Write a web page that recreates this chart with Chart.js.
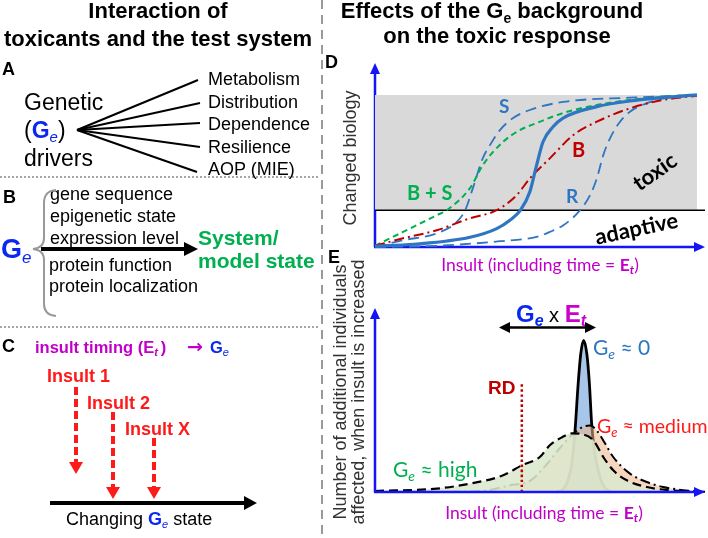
<!DOCTYPE html>
<html>
<head>
<meta charset="utf-8">
<script src="https://cdn.jsdelivr.net/npm/chart.js@4.4.1/dist/chart.umd.min.js"></script>
<style>
  html, body { margin:0; padding:0; background:#fff; }
  #wrap { position:relative; width:708px; height:538px; overflow:hidden; background:#fff; }
  canvas { position:absolute; left:0; top:0; }
  #cD { z-index:1; } #cE { z-index:1; }
  svg { position:absolute; left:0; top:0; z-index:2; }
  .ar { font-family:"Liberation Sans", Arial, sans-serif; }
  .cal { font-family:Lato, "Open Sans", sans-serif; }
</style>
</head>
<body>
<div id="wrap">
<canvas id="cD" width="708" height="538"></canvas>
<canvas id="cE" width="708" height="538"></canvas>
<svg width="708" height="538" viewBox="0 0 708 538" xmlns="http://www.w3.org/2000/svg">
  <!-- divider -->
  <line x1="322" y1="0" x2="322" y2="538" stroke="#9a9a9a" stroke-width="2" stroke-dasharray="9 6"/>
  <line x1="0" y1="177" x2="318" y2="177" stroke="#8a8a8a" stroke-width="1.5" stroke-dasharray="2 2"/>
  <line x1="0" y1="327" x2="318" y2="327" stroke="#8a8a8a" stroke-width="1.5" stroke-dasharray="2 2"/>

  <!-- titles -->
  <g class="ar" font-weight="bold" font-size="22" text-anchor="middle" fill="#000">
    <text x="158" y="18">Interaction of</text>
    <text x="158" y="46">toxicants and the test system</text>
    <text x="492" y="18">Effects of the G<tspan font-size="14" dy="5">e</tspan><tspan dy="-5"> background</tspan></text>
    <text x="497" y="43">on the toxic response</text>
  </g>

  <!-- panel A -->
  <g class="ar" fill="#000">
    <text x="2" y="75" font-size="18" font-weight="bold">A</text>
    <text x="24" y="110" font-size="23">Genetic</text>
    <text x="24" y="138" font-size="23">(<tspan fill="#0a28f0" font-weight="bold">G</tspan><tspan fill="#0a28f0" font-style="italic" font-size="15" dy="4">e</tspan><tspan dy="-4">)</tspan></text>
    <text x="24" y="166" font-size="23">drivers</text>
    <g font-size="18">
      <text x="208" y="85">Metabolism</text>
      <text x="208" y="108">Distribution</text>
      <text x="208" y="130">Dependence</text>
      <text x="208" y="153">Resilience</text>
      <text x="208" y="175">AOP (MIE)</text>
    </g>
  </g>
  <g stroke="#000" stroke-width="2">
    <line x1="77" y1="130" x2="198" y2="80"/>
    <line x1="77" y1="130" x2="200" y2="103"/>
    <line x1="77" y1="130" x2="200" y2="123"/>
    <line x1="77" y1="130" x2="200" y2="147"/>
    <line x1="77" y1="130" x2="197" y2="172"/>
  </g>

  <!-- panel B -->
  <g class="ar">
    <text x="3" y="203" font-size="18" font-weight="bold">B</text>
    <text x="1" y="258" font-size="27" font-weight="bold" fill="#0a28f0">G<tspan font-style="italic" font-weight="normal" font-size="17" dy="5">e</tspan></text>
    <g font-size="18" fill="#000">
      <text x="50" y="200">gene sequence</text>
      <text x="50" y="222">epigenetic state</text>
      <text x="50" y="244">expression level</text>
      <text x="49" y="271">protein function</text>
      <text x="49" y="292">protein localization</text>
    </g>
    <g font-size="21" font-weight="bold" fill="#00b050">
      <text x="198" y="245">System/</text>
      <text x="198" y="268">model state</text>
    </g>
  </g>
  <path d="M56 190 Q44 191 44 203 L44 238 Q44 248 33 249 Q44 250 44 260 L44 304 Q44 315 56 316" fill="none" stroke="#999" stroke-width="2"/>
  <line x1="41" y1="249" x2="186" y2="249" stroke="#000" stroke-width="4"/>
  <polygon points="184,242 198,249 184,256" fill="#000"/>

  <!-- panel C -->
  <g class="ar" font-weight="bold">
    <text x="2" y="352" font-size="18">C</text>
    <text x="35" y="353" font-size="16.5" fill="#c000c8">insult timing (E<tspan font-style="italic" font-size="11" dy="3">t</tspan><tspan dy="-3" dx="3">)</tspan></text>
    <text x="187" y="353" font-size="19" fill="#c000c8" font-family="DejaVu Sans">→</text>
    <text x="210" y="353" font-size="16.5" fill="#0a28f0">G<tspan font-style="italic" font-weight="normal" font-size="11" dy="3">e</tspan></text>
    <g font-size="18" fill="#ff1a1a">
      <text x="47" y="382">Insult 1</text>
      <text x="87" y="409">Insult 2</text>
      <text x="125" y="435">Insult X</text>
    </g>
  </g>
  <g stroke="#ff1a1a" stroke-width="4" stroke-dasharray="8 4">
    <line x1="76" y1="387" x2="76" y2="463"/>
    <line x1="113" y1="412" x2="113" y2="488"/>
    <line x1="154" y1="438" x2="154" y2="488"/>
  </g>
  <g fill="#ff1a1a">
    <polygon points="69,462 83,462 76,474"/>
    <polygon points="106,487 120,487 113,499"/>
    <polygon points="147,487 161,487 154,499"/>
  </g>
  <line x1="50" y1="503" x2="246" y2="503" stroke="#000" stroke-width="4"/>
  <polygon points="244,496 257,503 244,510" fill="#000"/>
  <text class="ar" x="66" y="525" font-size="18" fill="#000">Changing <tspan fill="#0a28f0" font-weight="bold">G</tspan><tspan fill="#0a28f0" font-style="italic" font-size="11" dy="3">e</tspan><tspan dy="-3">  state</tspan></text>

  <!-- panel letters D / E -->
  <g class="ar" font-size="18" font-weight="bold">
    <text x="325" y="68">D</text>
    <text x="328" y="263">E</text>
  </g>

  <!-- axis titles -->
  <g class="ar" font-size="18" fill="#333" text-anchor="middle">
    <text transform="translate(356,158) rotate(-90)">Changed biology</text>
    <text transform="translate(346,392) rotate(-90)">Number of additional individuals</text>
    <text transform="translate(364,392) rotate(-90)">affected, when insult is increased</text>
  </g>
  <g class="cal" font-size="17.5" fill="#c000c8" text-anchor="middle">
    <text x="540" y="271">Insult (including time = <tspan font-weight="bold">E</tspan><tspan font-weight="bold" font-style="italic" font-size="12" dy="3">t</tspan><tspan dy="-3">)</tspan></text>
    <text x="544" y="519">Insult (including time = <tspan font-weight="bold">E</tspan><tspan font-weight="bold" font-style="italic" font-size="12" dy="3">t</tspan><tspan dy="-3">)</tspan></text>
  </g>

  <!-- D labels -->
  <g class="cal" font-weight="bold">
    <text x="499" y="113" font-size="19" fill="#2e75c2">S</text>
    <text x="572" y="157" font-size="20" fill="#c00000">B</text>
    <text x="407" y="200" font-size="20" fill="#00b050">B + S</text>
    <text x="566" y="203" font-size="19" fill="#2e75c2">R</text>
    <text transform="translate(659,178) rotate(-35)" text-anchor="middle" font-size="22" fill="#000">toxic</text>
    <text transform="translate(638,236) rotate(-12)" text-anchor="middle" font-size="22" fill="#000">adaptive</text>
  </g>

  <!-- E labels -->
  <g class="ar" font-weight="bold">
    <text x="551" y="322" text-anchor="middle" font-size="24"><tspan fill="#0a28f0">G</tspan><tspan fill="#0a28f0" font-style="italic" font-size="16" dy="4">e</tspan><tspan dy="-4" font-weight="normal" font-size="20" fill="#000"> x </tspan><tspan fill="#cc00cc">E</tspan><tspan fill="#cc00cc" font-style="italic" font-size="16" dy="4">t</tspan></text>
    <text x="488" y="394" font-size="19" fill="#c00000">RD</text>
  </g>
  <line x1="508" y1="327.5" x2="587" y2="327.5" stroke="#000" stroke-width="2.5"/>
  <polygon points="499,327.5 510,322 510,333" fill="#000"/>
  <polygon points="596,327.5 585,322 585,333" fill="#000"/>
  <g class="cal">
    <text x="593" y="355" font-size="21" fill="#2e75c2">G<tspan font-style="italic" font-size="14" dy="4">e</tspan><tspan dy="-4"> ≈ 0</tspan></text>
    <text x="597" y="433" font-size="19.5" fill="#ff1a1a">G<tspan font-style="italic" font-size="13" dy="4">e</tspan><tspan dy="-4"> ≈ medium</tspan></text>
    <text x="393" y="477" font-size="21" fill="#00b050">G<tspan font-style="italic" font-size="14" dy="4">e</tspan><tspan dy="-4"> ≈ high</tspan></text>
  </g>
</svg>
</div>
<script>
// ---------- Panel D data (x = insult, y = changed biology, 0..100) ----------
const dGrayTop = 100;
const dThreshold = 24.2;
const dS_x  = [0, 8.7, 19.2, 25.4, 28, 30.4, 33.5, 35.7, 38.8, 42.9, 48.1, 58.4, 79.2, 100];
const dS_y  = [0.1, 4.4, 9, 16.5, 24.2, 38.7, 58.5, 67, 76.9, 84.8, 90.1, 95.4, 98.2, 100];
const dBS_x = [0, 8.7, 19.2, 22.3, 29.5, 33.5, 39.8, 45, 50.2, 58.4, 68.9, 79.2, 89.4, 100];
const dBS_y = [0.8, 9.9, 20.9, 24.2, 38.7, 53.9, 69.2, 76.9, 81.5, 88.1, 93.4, 96.7, 98.7, 100];
const dB_x  = [0, 8.7, 19.2, 29.5, 37.8, 44, 48.1, 54.3, 61.6, 68.9, 79.2, 89.5, 100];
const dB_y  = [0.8, 5.7, 11, 18.9, 24.2, 34.1, 45.1, 58.3, 73.6, 82.4, 91.2, 96.7, 99.5];
const dR_x  = [0, 19.3, 38.8, 50.2, 54.3, 58.5, 63.7, 66.8, 68.9, 70.9, 73, 76.1, 79.2, 84.4, 89.5, 97.8, 100];
const dR_y  = [0, 0.8, 3.8, 6.6, 9.9, 14.3, 24.2, 34.1, 45.1, 60.4, 71.5, 82.4, 89, 94.5, 97.8, 99.5, 100];
const dN_x  = [0, 12, 29.5, 37.8, 41.9, 45.2, 48.1, 50.2, 52.2, 55.3, 58.4, 68.9, 79.2, 89.4, 100];
const dN_y  = [0.5, 1.8, 6.4, 12.1, 17.6, 24.2, 36.3, 53.9, 69.2, 79.1, 84.8, 92.3, 96, 98.2, 100];

// ---------- Panel E data (x = insult, y = additional individuals affected) ----------
const eZero_x = [56.5, 58.5, 60, 61.2, 62.1, 63.1, 63.9, 64.8, 65.8, 66.6, 67.3, 68.2, 69.6, 71.2, 73.3];
const eZero_y = [0, 3, 12, 30, 60, 108, 138, 151.7, 138, 108, 68, 40, 18, 5, 0];
const eMed_x  = [23.3, 34.8, 41.9, 48.4, 53.5, 57.7, 61.5, 64.5, 66.8, 69, 71.2, 74, 79.2, 84.4, 89.5, 97.8, 102.5];
const eMed_y  = [0.2, 1.7, 6.7, 11.7, 28.4, 45, 58, 65, 66.5, 61, 50, 35, 18.4, 10, 5, 1.2, 0.2];
const eHigh_x = [0, 19.2, 29.5, 39.8, 45.6, 51.2, 54.3, 58.1, 61.2, 63.7, 67.8, 70.9, 74, 78.2, 84.4, 91.6, 97.8];
const eHigh_y = [1, 3.4, 8.4, 16.7, 26.7, 35, 46.7, 54.7, 58.7, 58.2, 51.7, 35, 21.7, 11.7, 5, 1.7, 0.4];
const eRD_x = [45.6, 45.6];
const eRD_y = [0, 108.4];

const pts = (xs, ys) => xs.map((x, i) => ({x, y: ys[i]}));
const AXIS_BLUE = '#1414f5';

function axesPlugin(id, when) {
  const draw = (chart) => {
    const {ctx, chartArea: a, scales: {x, y}} = chart;
    const x0 = x.getPixelForValue(0), y0 = y.getPixelForValue(0);
    ctx.save();
    ctx.strokeStyle = AXIS_BLUE; ctx.fillStyle = AXIS_BLUE; ctx.lineWidth = 2.5;
    ctx.beginPath();
    ctx.moveTo(x0, y0); ctx.lineTo(x0, a.top + 8);
    ctx.moveTo(x0 - 1, y0); ctx.lineTo(a.right - 8, y0);
    ctx.stroke();
    ctx.beginPath(); ctx.moveTo(x0, a.top); ctx.lineTo(x0 - 5, a.top + 11); ctx.lineTo(x0 + 5, a.top + 11); ctx.closePath(); ctx.fill();
    ctx.beginPath(); ctx.moveTo(a.right, y0); ctx.lineTo(a.right - 11, y0 - 5); ctx.lineTo(a.right - 11, y0 + 5); ctx.closePath(); ctx.fill();
    ctx.restore();
  };
  const p = {id};
  p[when] = draw;
  return p;
}

const common = (pad, ymax) => ({
  responsive: false, animation: false, devicePixelRatio: 1, events: [],
  layout: {padding: pad},
  plugins: {legend: {display: false}, tooltip: {enabled: false}},
  scales: {
    x: {type: 'linear', display: false, min: 0, max: 102.5},
    y: {type: 'linear', display: false, min: 0, max: ymax}
  },
  elements: {point: {radius: 0}, line: {cubicInterpolationMode: 'monotone'}}
});

const BLUE = '#2e75c2';
new Chart(document.getElementById('cD'), {
  type: 'line',
  data: {datasets: [
    {data: pts([0, 100], [dGrayTop, dGrayTop]), borderWidth: 0, borderColor: 'rgba(0,0,0,0)', backgroundColor: '#d9d9d9', fill: {value: dThreshold}, order: 10, clip: false},
    {data: pts([0, 102.5], [dThreshold, dThreshold]), borderColor: '#000', borderWidth: 1.5, fill: false, order: 9, clip: false},
    {data: pts(dR_x, dR_y), borderColor: BLUE, borderWidth: 1.8, borderDash: [11, 6], fill: false, order: 6, clip: false},
    {data: pts(dS_x, dS_y), borderColor: BLUE, borderWidth: 1.8, borderDash: [11, 6], fill: false, order: 5, clip: false},
    {data: pts(dBS_x, dBS_y), borderColor: '#00b050', borderWidth: 2, borderDash: [6, 4], fill: false, order: 4, clip: false},
    {data: pts(dB_x, dB_y), borderColor: '#c00000', borderWidth: 2, borderDash: [10, 4, 2, 4], fill: false, order: 3, clip: false},
    {data: pts(dN_x, dN_y), borderColor: BLUE, borderWidth: 3.2, fill: false, order: 1, clip: false}
  ]},
  options: common({left: 375, right: 3, top: 63, bottom: 291}, 121),
  plugins: [axesPlugin('axesD', 'beforeDatasetsDraw')]
});

new Chart(document.getElementById('cE'), {
  type: 'line',
  data: {datasets: [
    {data: pts(eZero_x, eZero_y), borderColor: '#000', borderWidth: 2.8, backgroundColor: 'rgba(110,160,220,0.6)', fill: 'origin', order: 5, clip: false},
    {data: pts(eMed_x, eMed_y), borderColor: '#000', borderWidth: 2, borderDash: [10, 4, 2, 4], backgroundColor: 'rgba(240,180,140,0.55)', fill: 'origin', order: 4, clip: false},
    {data: pts(eHigh_x, eHigh_y), borderColor: '#000', borderWidth: 2.2, borderDash: [9, 5], backgroundColor: 'rgba(220,232,205,0.88)', fill: 'origin', order: 3, clip: false},
    {data: pts(eRD_x, eRD_y), borderColor: '#c00000', borderWidth: 2.5, borderDash: [2.5, 2.5], fill: false, order: 1, clip: false}
  ]},
  options: common({left: 375, right: 3, top: 308, bottom: 46}, 184),
  plugins: [axesPlugin('axesE', 'afterDatasetsDraw')]
});
</script>
</body>
</html>
